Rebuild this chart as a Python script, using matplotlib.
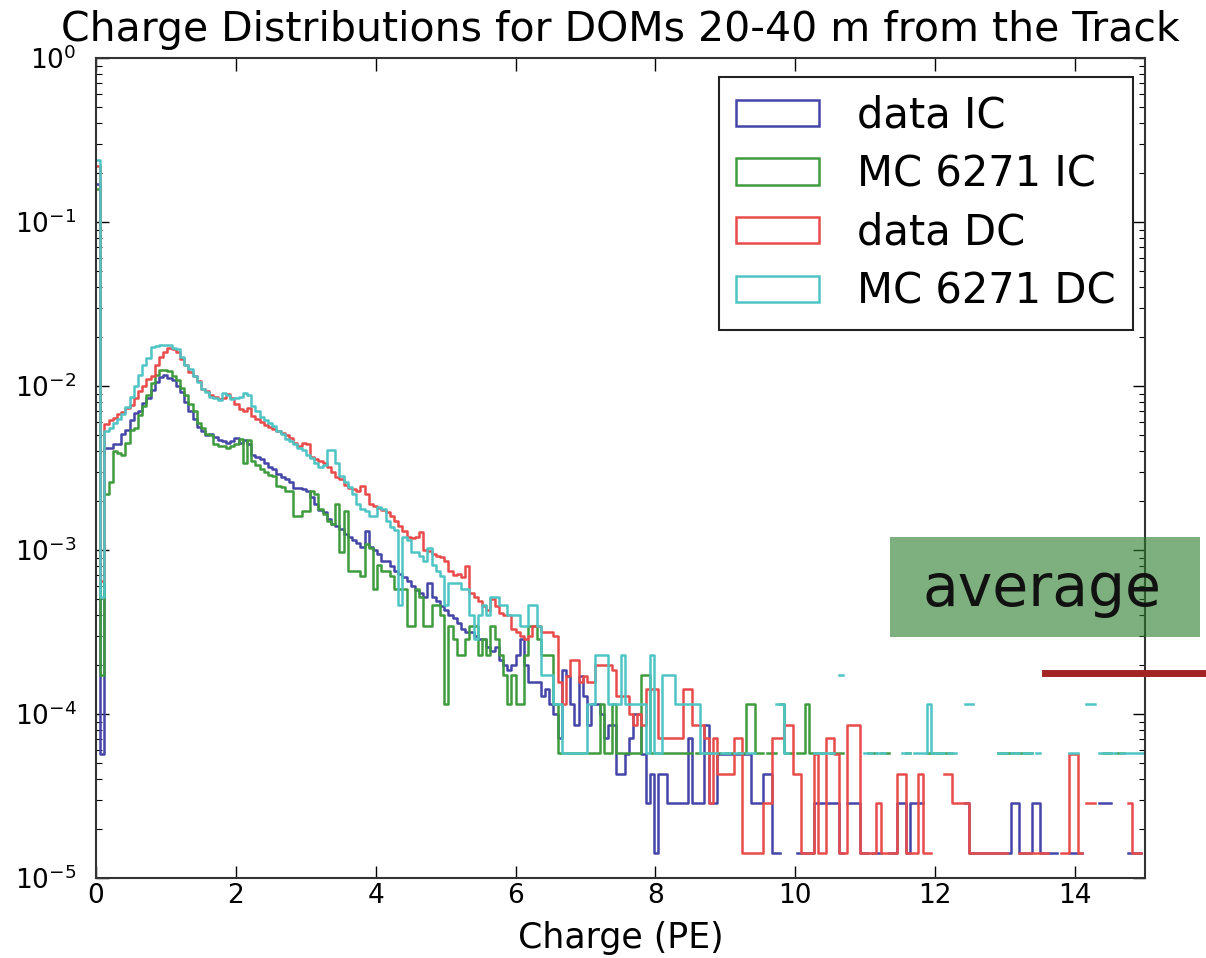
import numpy as np
import matplotlib
matplotlib.use("Agg")
import matplotlib.pyplot as plt
from matplotlib.patches import Patch, Rectangle
from matplotlib.lines import Line2D

plt.rcParams["axes.unicode_minus"] = False

# ---------------- data (histogram counts per 0.06 PE bin, 0..15 PE) ----------------
bin_lo, bin_hi, n_bins = 0.0, 15.0, 250

# per-count heights (lowest populated level of each sample)
unit_data = 1.43e-5     # data IC / data DC
unit_mc = 5.75e-5       # MC 6271 IC / MC 6271 DC

data_ic = [
    11900, 4, 294, 294, 308, 308, 357, 378, 434, 476,
    490, 553, 595, 658, 735, 798, 819, 784, 756, 700,
    644, 560, 490, 441, 392, 371, 350, 357, 343, 329,
    322, 315, 322, 336, 315, 329, 308, 266, 259, 252,
    238, 224, 217, 203, 196, 189, 182, 168, 168, 164,
    161, 147, 133, 122, 119, 108, 101, 98, 94, 87,
    84, 80, 77, 73, 91, 73, 70, 66, 60, 60,
    56, 52, 50, 48, 45, 42, 40, 38, 36, 44,
    36, 34, 32, 30, 28, 27, 25, 23, 22, 22,
    21, 20, 20, 18, 17, 18, 15, 14, 13, 14,
    16, 20, 14, 11, 11, 11, 9, 10, 8, 7,
    5, 13, 12, 8, 6, 12, 9, 6, 8, 8,
    7, 5, 6, 6, 3, 3, 4, 5, 7, 7,
    4, 2, 3, 1, 3, 3, 2, 2, 2, 2,
    2, 5, 2, 2, 2, 6, 2, 2, 4, 4,
    4, 4, 4, 4, 4, 4, 2, 2, 2, 3,
    3, 1, 1, 0, 0, 0, 0, 1, 1, 1,
    1, 2, 2, 2, 2, 2, 2, 1, 0, 2,
    2, 2, 1, 1, 0, 1, 1, 0, 0, 1,
    1, 2, 2, 1, 2, 2, 2, 0, 0, 0,
    0, 0, 0, 0, 0, 0, 0, 2, 1, 1,
    1, 1, 1, 1, 1, 1, 1, 1, 2, 2,
    1, 1, 1, 2, 2, 1, 1, 1, 1, 0,
    0, 0, 1, 1, 1, 0, 0, 0, 0, 2,
    2, 2, 0, 0, 0, 0, 1, 1, 1, 0,
]

mc_ic = [
    2783, 3, 38, 45, 70, 68, 66, 78, 94, 97,
    115, 132, 153, 181, 203, 219, 219, 216, 200, 188,
    170, 153, 136, 122, 104, 96, 89, 87, 77, 75,
    75, 73, 75, 77, 83, 59, 82, 61, 57, 54,
    52, 50, 49, 43, 42, 40, 40, 28, 28, 30,
    30, 40, 38, 31, 29, 26, 25, 33, 17, 30,
    13, 13, 13, 12, 19, 18, 10, 14, 13, 13,
    12, 10, 10, 10, 6, 6, 10, 9, 6, 6,
    8, 8, 7, 2, 6, 5, 4, 4, 5, 6,
    6, 4, 5, 4, 6, 5, 4, 3, 2, 3,
    2, 2, 4, 6, 6, 5, 4, 4, 4, 2,
    1, 1, 1, 1, 1, 1, 1, 1, 1, 1,
    2, 1, 1, 2, 1, 1, 1, 1, 1, 1,
    3, 3, 1, 1, 1, 1, 1, 1, 1, 1,
    1, 1, 0, 1, 0, 1, 1, 0, 1, 0,
    1, 1, 0, 1, 1, 2, 2, 1, 1, 0,
    1, 1, 0, 2, 1, 1, 0, 1, 1, 2,
    1, 1, 1, 1, 0, 1, 1, 1, 0, 0,
    0, 0, 0, 0, 1, 1, 0, 1, 1, 0,
    0, 0, 0, 1, 0, 0, 0, 0, 1, 1,
    1, 1, 1, 1, 0, 0, 0, 0, 0, 0,
    0, 0, 0, 0, 0, 1, 1, 1, 1, 1,
    1, 1, 1, 0, 0, 0, 0, 0, 0, 0,
    0, 0, 0, 0, 0, 0, 0, 0, 0, 0,
    1, 1, 0, 1, 1, 0, 0, 0, 0, 0,
]

data_dc = [
    15400, 45, 413, 434, 448, 469, 483, 511, 532, 595,
    651, 700, 770, 805, 945, 1050, 1120, 1190, 1176, 1120,
    1015, 945, 854, 805, 749, 672, 651, 616, 602, 581,
    595, 623, 588, 546, 504, 490, 511, 462, 441, 420,
    406, 392, 385, 371, 364, 350, 336, 315, 301, 315,
    308, 259, 252, 245, 238, 224, 210, 196, 189, 175,
    168, 164, 161, 171, 154, 133, 130, 126, 122, 119,
    112, 105, 98, 91, 84, 83, 84, 90, 70, 69,
    66, 64, 63, 60, 52, 49, 50, 48, 56, 38,
    36, 34, 32, 30, 35, 32, 29, 28, 28, 23,
    22, 21, 20, 21, 24, 24, 22, 22, 22, 21,
    11, 8, 12, 15, 15, 11, 12, 11, 11, 14,
    14, 14, 14, 13, 9, 9, 9, 7, 6, 7,
    6, 10, 10, 10, 5, 5, 5, 5, 5, 5,
    10, 10, 6, 6, 6, 5, 2, 5, 3, 3,
    3, 3, 5, 5, 1, 1, 1, 1, 1, 2,
    2, 5, 5, 5, 6, 6, 3, 3, 1, 1,
    1, 4, 1, 1, 5, 5, 4, 1, 1, 6,
    6, 6, 1, 1, 1, 1, 2, 1, 1, 1,
    1, 3, 3, 1, 1, 1, 3, 1, 1, 0,
    0, 0, 3, 3, 2, 2, 2, 2, 1, 1,
    1, 1, 1, 1, 1, 1, 1, 0, 0, 0,
    1, 1, 1, 1, 1, 1, 1, 0, 0, 0,
    1, 1, 4, 4, 1, 0, 2, 2, 0, 0,
    0, 0, 0, 0, 0, 0, 2, 1, 1, 0,
]

mc_dc = [
    4174, 9, 92, 96, 103, 110, 118, 129, 148, 174,
    202, 235, 257, 299, 306, 308, 310, 308, 296, 292,
    261, 235, 221, 200, 183, 167, 160, 150, 146, 143,
    157, 153, 144, 146, 148, 158, 153, 132, 122, 113,
    108, 103, 99, 92, 89, 83, 80, 77, 73, 71,
    66, 63, 59, 56, 57, 71, 71, 59, 49, 45,
    42, 38, 33, 31, 30, 28, 28, 32, 31, 26,
    24, 23, 8, 21, 20, 17, 17, 16, 15, 18,
    14, 13, 12, 8, 11, 11, 11, 10, 10, 7,
    5, 7, 8, 7, 9, 9, 8, 8, 7, 7,
    7, 6, 6, 8, 8, 6, 3, 3, 3, 2,
    2, 1, 1, 1, 1, 1, 1, 2, 2, 4,
    4, 4, 2, 2, 2, 4, 2, 2, 2, 2,
    2, 1, 4, 1, 1, 3, 3, 3, 2, 2,
    2, 2, 2, 2, 1, 1, 1, 1, 0, 1,
    1, 0, 1, 1, 0, 1, 1, 0, 0, 0,
    0, 0, 2, 2, 1, 0, 0, 0, 0, 0,
    0, 1, 1, 1, 1, 1, 0, 3, 0, 0,
    0, 0, 0, 1, 1, 0, 1, 1, 0, 0,
    0, 0, 1, 1, 0, 1, 1, 1, 2, 1,
    1, 1, 0, 1, 1, 0, 0, 2, 2, 0,
    0, 0, 0, 0, 0, 1, 1, 0, 1, 1,
    0, 1, 1, 0, 1, 0, 0, 0, 0, 0,
    0, 0, 1, 1, 0, 0, 2, 2, 0, 1,
    1, 1, 1, 0, 1, 1, 1, 1, 1, 1,
]

labels = ["data IC", "MC 6271 IC", "data DC", "MC 6271 DC"]
colors = ["#4545a8", "#3e9b3e", "#e94b4b", "#4fc4c4"]
x_ticks = [0, 2, 4, 6, 8, 10, 12, 14]

# ---------------- figure ----------------
W, H, DPI = 1206, 958, 100
fig = plt.figure(figsize=(W / DPI, H / DPI), dpi=DPI)
ax = fig.add_axes([96 / W, 1 - 878 / H, (1145 - 96) / W, (878 - 58) / H])

edges = np.linspace(bin_lo, bin_hi, n_bins + 1)
series = [(data_ic, unit_data), (mc_ic, unit_mc), (data_dc, unit_data), (mc_dc, unit_mc)]
for (counts, unit), col in zip(series, colors):
    vals = np.asarray(counts, dtype=float) * unit
    vals[vals <= 0] = np.nan
    yy = np.append(vals, vals[-1])
    ax.plot(edges, yy, drawstyle="steps-post", color=col, lw=1.8)

ax.set_yscale("log", nonpositive="mask")
ax.set_xlim(0, 15)
ax.set_ylim(1e-5, 1e0)
ax.set_xticks(x_ticks)
ax.tick_params(which="both", direction="in", top=True, right=True, labelsize=19)
ax.tick_params(axis="y", which="major", pad=14)
ax.tick_params(which="major", length=9, width=1)
ax.tick_params(which="minor", length=4.5, width=0.8)
for s in ax.spines.values():
    s.set_linewidth(1.5)
    s.set_color("#333333")

ax.set_title("Charge Distributions for DOMs 20-40 m from the Track", fontsize=29.5, pad=12)
ax.set_xlabel("Charge (PE)", fontsize=25, labelpad=9)

handles = [Patch(facecolor="none", edgecolor=c, linewidth=1.8) for c in colors]
leg = ax.legend(handles, labels, loc="upper right",
                bbox_to_anchor=((1133 - 96) / 1049, (878 - 77) / 820),
                borderaxespad=0, fontsize=30, fancybox=False, framealpha=1,
                borderpad=0.42, labelspacing=0.4, handlelength=2.0,
                handleheight=0.6, handletextpad=0.9)
leg.get_frame().set_edgecolor("#222222")
leg.get_frame().set_linewidth(1.5)

# ---------------- overlay annotation ----------------
fig.patches.append(Rectangle((890 / W, 1 - 637 / H), (1200 - 890) / W, 100 / H,
                             transform=fig.transFigure, facecolor=(0.16, 0.48, 0.16),
                             alpha=0.6, edgecolor="none", zorder=5))
fig.text(1042 / W, 1 - 590 / H, "average", fontsize=42, color="#111111",
         ha="center", va="center", zorder=6)
fig.lines.append(Line2D([1045 / W, 1.0], [1 - 673 / H, 1 - 673 / H],
                        transform=fig.transFigure, color="#a32424", lw=5, zorder=6))

fig.savefig("out.png", dpi=DPI)
